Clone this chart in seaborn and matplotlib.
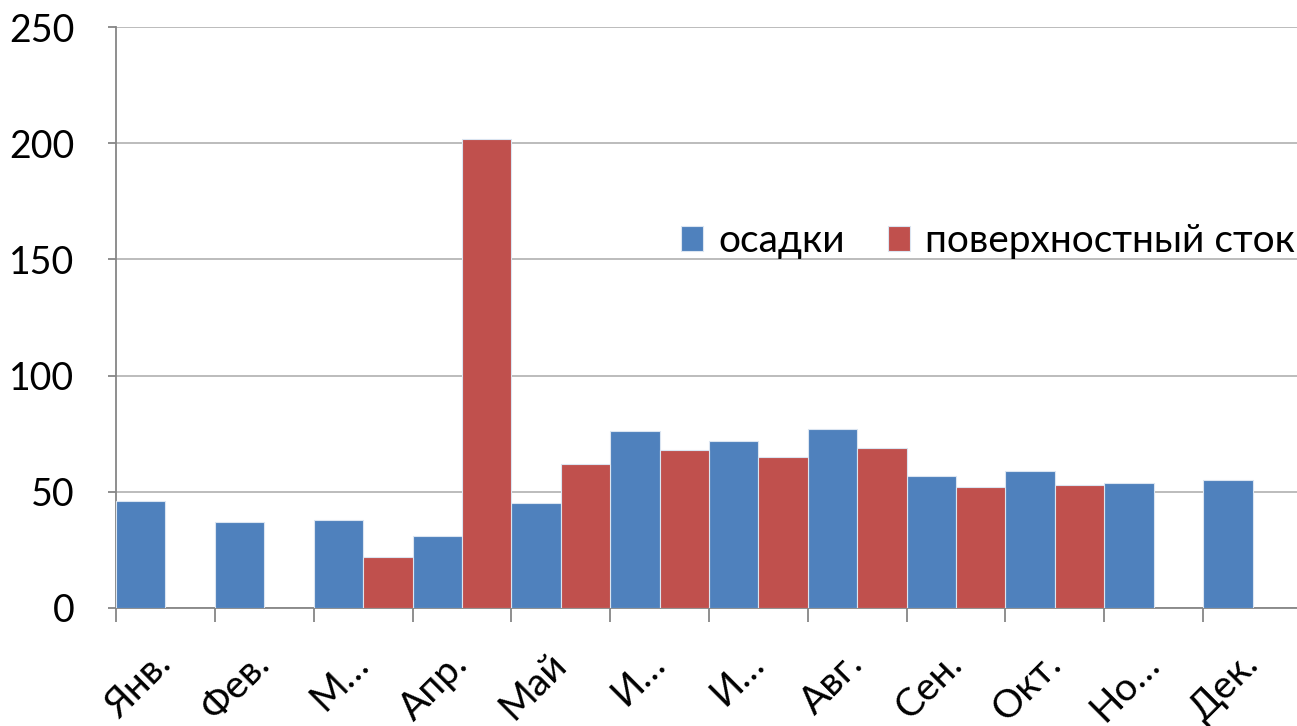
import numpy as np
import pandas as pd
import matplotlib
matplotlib.use("Agg")
import matplotlib.pyplot as plt
import seaborn as sns
from matplotlib.ticker import FixedLocator

months = ["Янв.", "Фев.", "М…", "Апр.", "Май", "И…", "И…", "Авг.", "Сен.", "Окт.", "Но…", "Дек."]
precip = [46, 37, 38, 31, 45, 76, 72, 77, 57, 59, 54, 55]
runoff = [np.nan, np.nan, 22, 202, 62, 68, 65, 69, 52, 53, np.nan, np.nan]
series_names = ["осадки", "поверхностный сток"]
yticks = [0, 50, 100, 150, 200, 250]

sns.set_theme(style="white")
plt.rcParams['font.family'] = ['Lato', 'DejaVu Sans']

idx = list(range(len(months)))
df = pd.DataFrame({
    "pos": idx * 2,
    "value": precip + runoff,
    "series": [series_names[0]] * 12 + [series_names[1]] * 12,
})

fig = plt.figure(figsize=(12.97, 7.26), dpi=100)
ax = fig.add_axes([116/1297, 1 - 608/726, (1302 - 116)/1297, (608 - 27)/726])

sns.barplot(data=df, x="pos", y="value", hue="series", hue_order=series_names,
            palette=["#4F81BD", "#C0504D"], saturation=1, width=1.0, dodge=True,
            edgecolor="#dbe5f1", linewidth=0.8, ax=ax, zorder=3)

ax.set_xlim(-0.5, 11.5)
ax.set_ylim(0, 250)
ax.set_yticks(yticks)
ax.set_yticklabels([str(t) for t in yticks])
ax.yaxis.grid(True, color="#b0b0b0", linewidth=1.2, zorder=0)
ax.set_axisbelow(True)

ax.set_xticks(idx)
ax.set_xticklabels(months, rotation=45, ha="right", va="center", rotation_mode="anchor",
                   fontsize=28, color="black")
ax.xaxis.set_minor_locator(FixedLocator([i - 0.5 for i in idx]))
ax.tick_params(axis="x", which="major", length=0, pad=36)
ax.tick_params(axis="x", which="minor", length=10, width=1.3, color="#868686", direction="out", bottom=True)
ax.tick_params(axis="y", length=6, width=1.3, color="#868686", direction="out", left=True,
               labelsize=27, labelcolor="black", pad=24)

ax.set_xlabel("")
ax.set_ylabel("")
for s in ["top", "right"]:
    ax.spines[s].set_visible(False)
for s in ["left", "bottom"]:
    ax.spines[s].set_color("#868686")
    ax.spines[s].set_linewidth(1.3)

leg = ax.get_legend()
if leg is not None:
    leg.remove()
handles, labels = ax.get_legend_handles_labels()
fig.legend(handles[:2], labels[:2], ncol=2, frameon=False, loc="center right",
           bbox_to_anchor=(1295/1297, 1 - 241/726), fontsize=28, handlelength=0.57,
           handleheight=0.62, handletextpad=0.39, columnspacing=1.1, borderaxespad=0,
           borderpad=0, labelcolor="black")

fig.savefig("out.png", dpi=100)
